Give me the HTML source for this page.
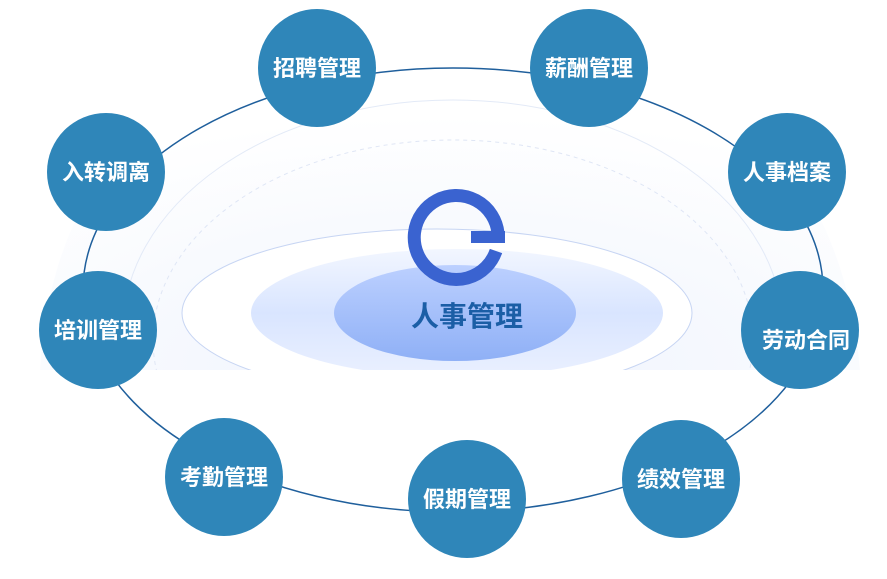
<!DOCTYPE html>
<html><head><meta charset="utf-8"><style>
body{margin:0;width:887px;height:574px;background:#fff;overflow:hidden;font-family:"Liberation Sans","Noto Sans CJK SC",sans-serif}
</style></head><body>
<svg width="887" height="574" viewBox="0 0 887 574" xmlns="http://www.w3.org/2000/svg">
<defs>
<radialGradient id="bg" cx="0.5" cy="1" r="0.75">
<stop offset="0" stop-color="#eef3fd"/><stop offset="1" stop-color="#ffffff"/>
</radialGradient>
<linearGradient id="mid" x1="0" y1="0" x2="0" y2="1">
<stop offset="0" stop-color="#f2f6ff"/><stop offset="0.5" stop-color="#d9e5ff"/><stop offset="1" stop-color="#eaf0ff"/>
</linearGradient>
<linearGradient id="inn" x1="0" y1="0" x2="0" y2="1">
<stop offset="0" stop-color="#bcd0ff"/><stop offset="1" stop-color="#8fb0f6"/>
</linearGradient>
</defs>
<path d="M40 370 Q60 40 453 30 Q830 40 860 370 Z" fill="url(#bg)"/>
<ellipse cx="453" cy="330" rx="330" ry="230" fill="none" stroke="#e3eaf7" stroke-width="1"/>
<ellipse cx="453" cy="340" rx="300" ry="200" fill="none" stroke="#dfe6f5" stroke-dasharray="4 4"/>
<rect x="0" y="370" width="887" height="204" fill="#fff"/>
<ellipse cx="437" cy="313" rx="255" ry="84" fill="#fff" stroke="#c7d5f3"/>
<ellipse cx="457" cy="313" rx="206" ry="64" fill="url(#mid)"/>
<ellipse cx="455" cy="313" rx="121" ry="48" fill="url(#inn)"/>
<rect x="0" y="370" width="887" height="204" fill="#fff"/>
<ellipse cx="453" cy="290" rx="370" ry="222" fill="none" stroke="#1f5f9c" stroke-width="1.5"/>
<path d="M498 233 A42 42 0 1 0 496 251" fill="none" stroke="#3a63d0" stroke-width="13"/>
<rect x="471" y="231" width="34" height="12" fill="#3a63d0"/>
<text x="467" y="326" font-size="28" font-weight="bold" fill="#1b5ea6" text-anchor="middle">人事管理</text>
<g fill="#2f86b9">
<circle cx="317" cy="68" r="59"/><circle cx="589" cy="68" r="59"/>
<circle cx="106" cy="172" r="59"/><circle cx="787" cy="172" r="59"/>
<circle cx="98" cy="330" r="59"/><circle cx="800" cy="330" r="59"/>
<circle cx="224" cy="477" r="59"/><circle cx="467" cy="499" r="59"/>
<circle cx="681" cy="479" r="59"/>
</g>
<g fill="#fff" font-size="22" font-weight="bold" text-anchor="middle">
<text x="317" y="76">招聘管理</text><text x="589" y="76">薪酬管理</text>
<text x="106" y="180">入转调离</text><text x="787" y="180">人事档案</text>
<text x="98" y="338">培训管理</text><text x="806" y="348">劳动合同</text>
<text x="224" y="485">考勤管理</text><text x="467" y="507">假期管理</text>
<text x="681" y="487">绩效管理</text>
</g>
</svg>
</body></html>
